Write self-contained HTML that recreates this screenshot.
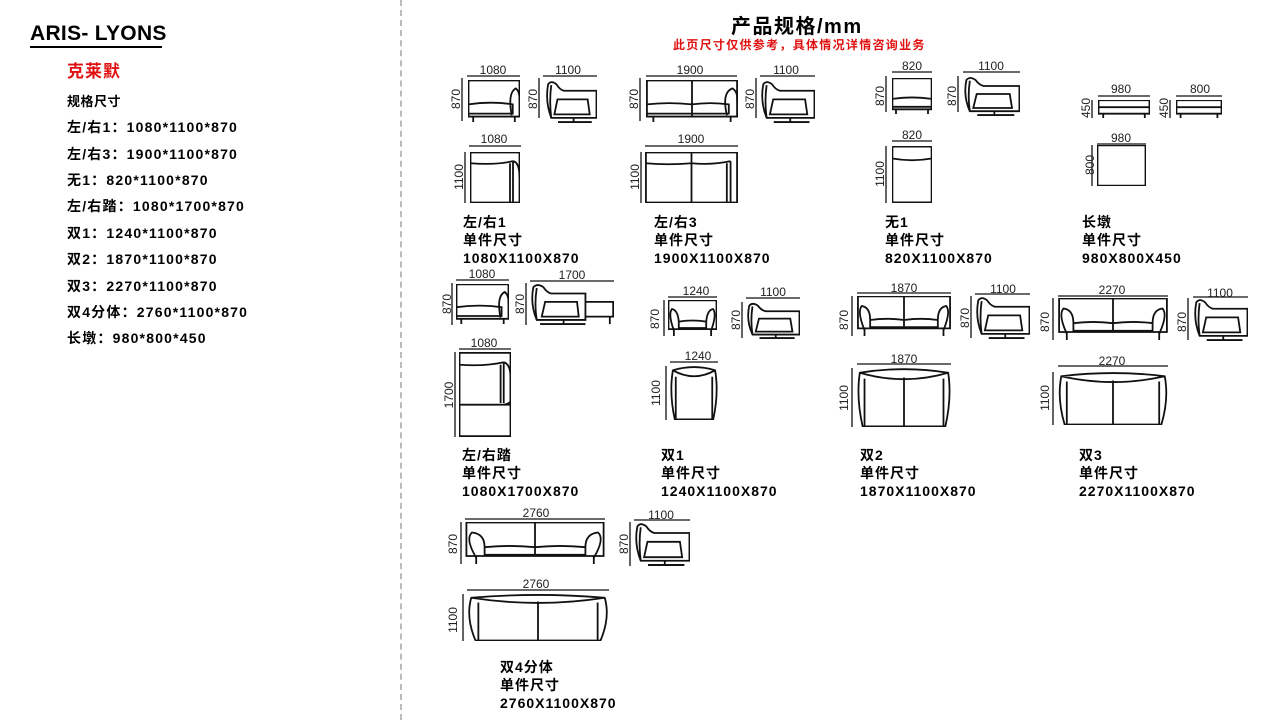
<!DOCTYPE html>
<html><head><meta charset="utf-8"><style>
body{margin:0;width:1280px;height:720px;background:#fff;position:relative;overflow:hidden;font-family:"Liberation Sans","Noto Sans CJK SC",sans-serif;color:#000}
.t{position:absolute;white-space:nowrap;font-weight:bold}
.l{font-size:14px;line-height:18px;letter-spacing:1px}
.s{font-size:14px;letter-spacing:1.2px}
svg{position:absolute;left:0;top:0}
</style></head><body>
<div class="t" style="left:30px;top:22px;font-size:21px;letter-spacing:0.3px">ARIS- LYONS</div>
<div style="position:absolute;left:30px;top:46px;width:132px;height:2px;background:#000"></div>
<div class="t" style="left:67px;top:57px;font-size:17px;color:#e01010;letter-spacing:1px">克莱默</div>
<div class="t" style="left:67px;top:91px;font-size:13px;letter-spacing:0.5px">规格尺寸</div>
<div class="t s" style="left:67px;top:117px">左/右1：1080*1100*870</div>
<div class="t s" style="left:67px;top:144px">左/右3：1900*1100*870</div>
<div class="t s" style="left:67px;top:170px">无1：820*1100*870</div>
<div class="t s" style="left:67px;top:196px">左/右踏：1080*1700*870</div>
<div class="t s" style="left:67px;top:223px">双1：1240*1100*870</div>
<div class="t s" style="left:67px;top:249px">双2：1870*1100*870</div>
<div class="t s" style="left:67px;top:276px">双3：2270*1100*870</div>
<div class="t s" style="left:67px;top:302px">双4分体：2760*1100*870</div>
<div class="t s" style="left:67px;top:328px">长墩：980*800*450</div>
<div style="position:absolute;left:400px;top:0;height:720px;border-left:2px dashed #bbb"></div>
<div class="t" style="left:731px;top:10px;font-size:20px;letter-spacing:1.5px">产品规格/mm</div>
<div class="t" style="left:673px;top:36px;font-size:12px;color:#e01010;letter-spacing:1.3px">此页尺寸仅供参考，具体情况详情咨询业务</div>

<div class="t l" style="left:463px;top:213px">左/右1<br>单件尺寸<br>1080X1100X870</div>
<div class="t l" style="left:654px;top:213px">左/右3<br>单件尺寸<br>1900X1100X870</div>
<div class="t l" style="left:885px;top:213px">无1<br>单件尺寸<br>820X1100X870</div>
<div class="t l" style="left:1082px;top:213px">长墩<br>单件尺寸<br>980X800X450</div>
<div class="t l" style="left:462px;top:446px">左/右踏<br>单件尺寸<br>1080X1700X870</div>
<div class="t l" style="left:661px;top:446px">双1<br>单件尺寸<br>1240X1100X870</div>
<div class="t l" style="left:860px;top:446px">双2<br>单件尺寸<br>1870X1100X870</div>
<div class="t l" style="left:1079px;top:446px">双3<br>单件尺寸<br>2270X1100X870</div>
<div class="t l" style="left:500px;top:658px">双4分体<br>单件尺寸<br>2760X1100X870</div>

<svg width="1280" height="720" viewBox="0 0 1280 720" font-family="Liberation Sans, sans-serif" font-size="12" fill="none" stroke="#111" stroke-width="1.5">
<defs>
<symbol id="fR" viewBox="0 0 100 100" preserveAspectRatio="none"><rect x="1" y="1" width="98" height="86" vector-effect="non-scaling-stroke"/><path d="M1 58 Q45 50 86 58 L86 80 L1 80" vector-effect="non-scaling-stroke"/><path d="M84 84 Q76 30 92 20 Q100 28 99 50" vector-effect="non-scaling-stroke"/><path d="M10 87 V100 M90 87 V100" vector-effect="non-scaling-stroke"/></symbol>
<symbol id="fR2" viewBox="0 0 100 100" preserveAspectRatio="none"><rect x="1" y="1" width="98" height="86" vector-effect="non-scaling-stroke"/><path d="M50 1 V87 M1 58 Q25 52 50 58 Q70 52 90 58 L90 80 L1 80" vector-effect="non-scaling-stroke"/><path d="M88 84 Q82 30 94 20 Q100 28 99 50" vector-effect="non-scaling-stroke"/><path d="M8 87 V100 M92 87 V100" vector-effect="non-scaling-stroke"/></symbol>
<symbol id="f0" viewBox="0 0 100 100" preserveAspectRatio="none"><rect x="1" y="1" width="98" height="86" vector-effect="non-scaling-stroke"/><path d="M1 58 Q50 50 99 58 M1 80 H99" vector-effect="non-scaling-stroke"/><path d="M10 87 V100 M90 87 V100" vector-effect="non-scaling-stroke"/></symbol>
<symbol id="fB" viewBox="0 0 100 100" preserveAspectRatio="none"><rect x="1" y="1" width="98" height="80" vector-effect="non-scaling-stroke"/><path d="M12 85 Q0 40 8 25 Q20 28 22 60 M88 85 Q100 40 92 25 Q80 28 78 60 M22 60 Q50 54 78 60 L78 78 L22 78 Z" vector-effect="non-scaling-stroke"/><path d="M12 81 V100 M88 81 V100" vector-effect="non-scaling-stroke"/></symbol>
<symbol id="fB2" viewBox="0 0 100 100" preserveAspectRatio="none"><rect x="1" y="1" width="98" height="80" vector-effect="non-scaling-stroke"/><path d="M50 1 V78 M8 85 Q0 40 5 25 Q14 28 14 60 M92 85 Q100 40 95 25 Q86 28 86 60 M14 60 Q32 54 50 60 Q68 54 86 60 L86 78 L14 78 Z" vector-effect="non-scaling-stroke"/><path d="M8 81 V100 M92 81 V100" vector-effect="non-scaling-stroke"/></symbol>
<symbol id="sd" viewBox="0 0 100 100" preserveAspectRatio="none"><path d="M12 88 Q0 50 6 10 Q12 0 22 10 Q28 22 36 25 L99 25 L99 88 Z" vector-effect="non-scaling-stroke"/><path d="M12 88 Q8 50 12 12 M24 45 L82 45 L86 80 L18 80 Z" vector-effect="non-scaling-stroke"/><path d="M55 88 V98" vector-effect="non-scaling-stroke"/><path d="M25 99 H90" stroke-width="3" vector-effect="non-scaling-stroke"/></symbol>
<symbol id="tR" viewBox="0 0 100 100" preserveAspectRatio="none"><rect x="1" y="1" width="98" height="98" vector-effect="non-scaling-stroke"/><path d="M1 22 Q50 26 86 18 M86 18 V99 M80 22 V99 M86 18 Q99 20 99 50" vector-effect="non-scaling-stroke"/></symbol>
<symbol id="tR2" viewBox="0 0 100 100" preserveAspectRatio="none"><rect x="1" y="1" width="98" height="98" vector-effect="non-scaling-stroke"/><path d="M50 1 V99 M1 22 Q25 26 50 22 Q72 26 92 18 M92 18 V99 M88 22 V99" vector-effect="non-scaling-stroke"/></symbol>
<symbol id="t0" viewBox="0 0 100 100" preserveAspectRatio="none"><rect x="1" y="1" width="98" height="98" rx="3" vector-effect="non-scaling-stroke"/><path d="M1 22 Q50 28 99 22" vector-effect="non-scaling-stroke"/></symbol>
<symbol id="tB" viewBox="0 0 100 100" preserveAspectRatio="none"><path d="M10 99 Q-2 50 6 8 Q50 -4 94 8 Q102 50 90 99 Z M6 8 Q50 30 94 8 M12 20 V99 M88 20 V99" vector-effect="non-scaling-stroke"/></symbol>
<symbol id="tB2" viewBox="0 0 100 100" preserveAspectRatio="none"><path d="M6 99 Q-1 50 3 8 Q50 -4 97 8 Q101 50 94 99 Z M3 8 Q50 30 97 8 M50 16 V99 M8 18 V99 M92 18 V99" vector-effect="non-scaling-stroke"/></symbol>
<symbol id="ot" viewBox="0 0 100 100" preserveAspectRatio="none"><rect x="1" y="1" width="98" height="75" vector-effect="non-scaling-stroke"/><path d="M1 40 H99 M10 76 V100 M90 76 V100" vector-effect="non-scaling-stroke"/></symbol>
<symbol id="sq" viewBox="0 0 100 100" preserveAspectRatio="none"><rect x="1" y="1" width="98" height="98" vector-effect="non-scaling-stroke"/></symbol>
<symbol id="ch" viewBox="0 0 100 100" preserveAspectRatio="none"><path d="M8 88 Q0 50 4 10 Q9 0 16 10 Q20 22 25 25 L66 25 L66 88 Z" vector-effect="non-scaling-stroke"/><path d="M8 88 Q5 50 8 12 M18 45 L56 45 L58 80 L14 80 Z M66 45 L99 45 L99 80 L66 80 M95 80 V98" vector-effect="non-scaling-stroke"/><path d="M40 88 V98" vector-effect="non-scaling-stroke"/><path d="M12 99 H66" stroke-width="3" vector-effect="non-scaling-stroke"/></symbol>
<symbol id="tc" viewBox="0 0 100 100" preserveAspectRatio="none"><rect x="1" y="1" width="98" height="98" vector-effect="non-scaling-stroke"/><path d="M1 15 Q50 17 86 12 M86 12 V60 M80 15 V60 M86 12 Q99 14 99 30 L99 58 Q95 62 80 62 M1 62 H99" vector-effect="non-scaling-stroke"/></symbol>
</defs>
<g stroke-width="1.8">
<use href="#fR" x="468" y="80" width="52" height="42"/>
<use href="#sd" x="545" y="80" width="52" height="43"/>
<use href="#tR" x="470" y="152" width="50" height="51"/>
<use href="#fR2" x="646" y="80" width="92" height="42"/>
<use href="#sd" x="760" y="80" width="55" height="43"/>
<use href="#tR2" x="645" y="152" width="93" height="51"/>
<use href="#f0" x="892" y="78" width="40" height="36"/>
<use href="#sd" x="963" y="76" width="57" height="40"/>
<use href="#t0" x="892" y="146" width="40" height="57"/>
<use href="#ot" x="1098" y="100" width="52" height="18"/>
<use href="#ot" x="1176" y="100" width="46" height="18"/>
<use href="#sq" x="1097" y="145" width="49" height="41"/>
<use href="#fR" x="456" y="284" width="53" height="40"/>
<use href="#ch" x="530" y="283" width="84" height="42"/>
<use href="#tc" x="459" y="352" width="52" height="85"/>
<use href="#fB" x="668" y="300" width="49" height="36"/>
<use href="#sd" x="746" y="302" width="54" height="37"/>
<use href="#tB" x="670" y="366" width="48" height="54"/>
<use href="#fB2" x="857" y="296" width="94" height="40"/>
<use href="#sd" x="975" y="296" width="55" height="43"/>
<use href="#tB2" x="857" y="368" width="94" height="59"/>
<use href="#fB2" x="1058" y="298" width="110" height="42"/>
<use href="#sd" x="1193" y="298" width="55" height="43"/>
<use href="#tB2" x="1058" y="372" width="110" height="53"/>
<use href="#fB2" x="465" y="522" width="140" height="42"/>
<use href="#sd" x="634" y="522" width="56" height="44"/>
<use href="#tB2" x="467" y="594" width="142" height="47"/>
</g>
<g stroke-width="1.3">
<path d="M467 76H520M462 78V121M543 76H597M539 78V118M469 146H521M465 152V203
M646 76H737M640 78V121M760 76H815M756 78V118M645 146H738M641 152V203
M892 72H932M886 76V112M963 72H1020M958 76V112M892 141H932M886 146V203
M1098 96H1150M1092 100V118M1176 96H1222M1170 100V118M1097 144H1146M1092 145V186
M456 280H509M452 283V325M530 281H614M526 283V325M459 349H511M455 352V437
M668 297H717M664 300V336M746 298H800M742 302V338M670 362H718M666 366V420
M857 293H951M852 296V336M975 294H1030M971 296V338M857 364H951M852 368V427
M1058 296H1168M1053 298V340M1193 297H1248M1188 298V340M1058 366H1168M1053 372V425
M465 519H605M461 522V564M634 520H690M630 522V566M467 590H609M463 594V641"/>
</g>
<g fill="#222" stroke="none" text-anchor="middle">
<text x="493" y="74">1080</text><text x="568" y="74">1100</text><text x="494" y="143">1080</text>
<text x="690" y="74">1900</text><text x="786" y="74">1100</text><text x="691" y="143">1900</text>
<text x="912" y="70">820</text><text x="991" y="70">1100</text><text x="912" y="139">820</text>
<text x="1121" y="93">980</text><text x="1200" y="93">800</text><text x="1121" y="142">980</text>
<text x="482" y="278">1080</text><text x="572" y="279">1700</text><text x="484" y="347">1080</text>
<text x="696" y="295">1240</text><text x="773" y="296">1100</text><text x="698" y="360">1240</text>
<text x="904" y="292">1870</text><text x="1003" y="293">1100</text><text x="904" y="363">1870</text>
<text x="1112" y="294">2270</text><text x="1220" y="297">1100</text><text x="1112" y="365">2270</text>
<text x="536" y="517">2760</text><text x="661" y="519">1100</text><text x="536" y="588">2760</text>
<text transform="translate(460,99) rotate(-90)">870</text><text transform="translate(537,99) rotate(-90)">870</text><text transform="translate(463,177) rotate(-90)">1100</text>
<text transform="translate(638,99) rotate(-90)">870</text><text transform="translate(754,99) rotate(-90)">870</text><text transform="translate(639,177) rotate(-90)">1100</text>
<text transform="translate(884,96) rotate(-90)">870</text><text transform="translate(956,96) rotate(-90)">870</text><text transform="translate(884,174) rotate(-90)">1100</text>
<text transform="translate(1090,108) rotate(-90)">450</text><text transform="translate(1168,108) rotate(-90)">450</text><text transform="translate(1094,165) rotate(-90)">800</text>
<text transform="translate(451,304) rotate(-90)">870</text><text transform="translate(524,304) rotate(-90)">870</text><text transform="translate(453,395) rotate(-90)">1700</text>
<text transform="translate(659,319) rotate(-90)">870</text><text transform="translate(740,320) rotate(-90)">870</text><text transform="translate(660,393) rotate(-90)">1100</text>
<text transform="translate(848,320) rotate(-90)">870</text><text transform="translate(969,318) rotate(-90)">870</text><text transform="translate(848,398) rotate(-90)">1100</text>
<text transform="translate(1049,322) rotate(-90)">870</text><text transform="translate(1186,322) rotate(-90)">870</text><text transform="translate(1049,398) rotate(-90)">1100</text>
<text transform="translate(457,544) rotate(-90)">870</text><text transform="translate(628,544) rotate(-90)">870</text><text transform="translate(457,620) rotate(-90)">1100</text>
</g>
</svg>
</body></html>
